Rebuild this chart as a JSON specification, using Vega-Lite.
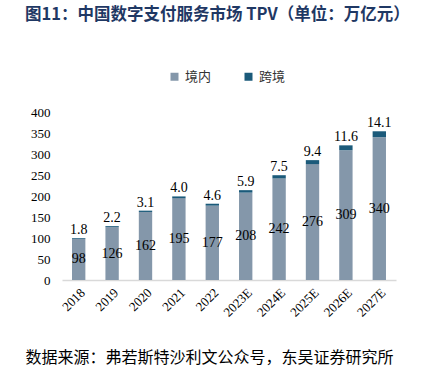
{
  "$schema": "https://vega.github.io/schema/vega-lite/v6.json",
  "width": 334,
  "height": 168,
  "autosize": {"type": "none"},
  "padding": {"left": 62, "top": 112, "right": 29, "bottom": 105},
  "background": "white",
  "title": {
    "text": "图11：中国数字支付服务市场 TPV（单位：万亿元）",
    "anchor": "start",
    "frame": "group",
    "dx": -37,
    "offset": 47,
    "font": "Noto Sans CJK SC",
    "fontSize": 16.5,
    "fontWeight": "bold",
    "color": "#1F3864"
  },
  "config": {
    "view": {"stroke": null},
    "font": "Liberation Serif"
  },
  "resolve": {"axis": {"y": "independent"}},
  "data": {
    "values": [
      {"year": "2018", "type": "境内", "value": 98, "ord": 1},
      {"year": "2018", "type": "跨境", "value": 1.8, "ord": 2},
      {"year": "2019", "type": "境内", "value": 126, "ord": 1},
      {"year": "2019", "type": "跨境", "value": 2.2, "ord": 2},
      {"year": "2020", "type": "境内", "value": 162, "ord": 1},
      {"year": "2020", "type": "跨境", "value": 3.1, "ord": 2},
      {"year": "2021", "type": "境内", "value": 195, "ord": 1},
      {"year": "2021", "type": "跨境", "value": 4.0, "ord": 2},
      {"year": "2022", "type": "境内", "value": 177, "ord": 1},
      {"year": "2022", "type": "跨境", "value": 4.6, "ord": 2},
      {"year": "2023E", "type": "境内", "value": 208, "ord": 1},
      {"year": "2023E", "type": "跨境", "value": 5.9, "ord": 2},
      {"year": "2024E", "type": "境内", "value": 242, "ord": 1},
      {"year": "2024E", "type": "跨境", "value": 7.5, "ord": 2},
      {"year": "2025E", "type": "境内", "value": 276, "ord": 1},
      {"year": "2025E", "type": "跨境", "value": 9.4, "ord": 2},
      {"year": "2026E", "type": "境内", "value": 309, "ord": 1},
      {"year": "2026E", "type": "跨境", "value": 11.6, "ord": 2},
      {"year": "2027E", "type": "境内", "value": 340, "ord": 1},
      {"year": "2027E", "type": "跨境", "value": 14.1, "ord": 2}
    ]
  },
  "encoding": {
    "x": {
      "field": "year",
      "type": "nominal",
      "sort": null,
      "scale": {"paddingInner": 0.6, "paddingOuter": 0.3},
      "axis": {
        "labelAngle": -45,
        "labelFont": "Liberation Serif",
        "labelFontSize": 13,
        "labelColor": "#000000",
        "labelPadding": 6,
        "ticks": false,
        "domainColor": "#D9D9D9",
        "domainWidth": 1.5,
        "title": "数据来源：弗若斯特沙利文公众号，东吴证券研究所",
        "titleFont": "Noto Sans CJK SC",
        "titleFontSize": 16,
        "titleFontWeight": "normal",
        "titleColor": "#000000",
        "titleAnchor": "start",
        "titleAlign": "left",
        "titleBaseline": "middle",
        "titleX": -37,
        "titleY": 77
      }
    }
  },
  "layer": [
    {
      "mark": {"type": "bar"},
      "encoding": {
        "y": {
          "field": "value",
          "type": "quantitative",
          "stack": "zero",
          "scale": {"domain": [0, 400], "nice": false},
          "axis": {
            "values": [0, 50, 100, 150, 200, 250, 300, 350, 400],
            "labelOverlap": false,
            "grid": false,
            "domain": false,
            "ticks": false,
            "labelPadding": 12,
            "labelFont": "Liberation Serif",
            "labelFontSize": 13,
            "labelColor": "#000000",
            "title": null
          }
        },
        "color": {
          "field": "type",
          "type": "nominal",
          "scale": {"domain": ["境内", "跨境"], "range": ["#8497AA", "#1B5A7A"]},
          "legend": {
            "title": null,
            "orient": "none",
            "direction": "horizontal",
            "legendX": 106,
            "legendY": -42,
            "symbolType": "square",
            "symbolSize": 64,
            "symbolStrokeWidth": 0,
            "labelFont": "Noto Sans CJK SC",
            "labelFontSize": 13,
            "labelColor": "#333333",
            "columnPadding": 30,
            "padding": 0
          }
        },
        "order": {"field": "ord", "type": "quantitative"}
      }
    },
    {
      "transform": [
        {"filter": "datum.type === '境内'"},
        {"calculate": "datum.value / 2", "as": "mid"}
      ],
      "mark": {"type": "text", "font": "Liberation Serif", "fontSize": 14, "color": "#000000", "baseline": "middle"},
      "encoding": {
        "y": {"field": "mid", "type": "quantitative", "axis": null},
        "text": {"field": "value", "type": "quantitative", "format": "d"}
      }
    },
    {
      "mark": {"type": "text", "font": "Liberation Serif", "fontSize": 14, "color": "#000000", "baseline": "bottom", "dy": -1},
      "encoding": {
        "y": {"aggregate": "sum", "field": "value", "type": "quantitative", "axis": null},
        "text": {"aggregate": "min", "field": "value", "type": "quantitative", "format": ".1f"}
      }
    }
  ]
}
